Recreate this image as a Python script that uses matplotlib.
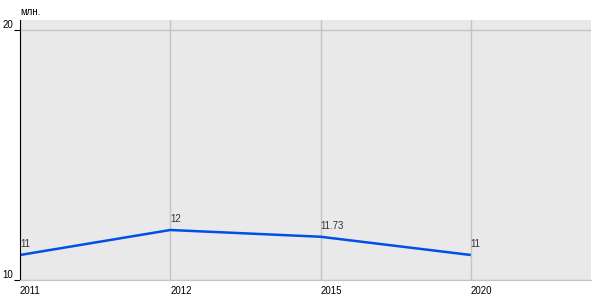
import matplotlib.pyplot as plt

# Данные
years = ["2011", "2012", "2015", "2020"]
values = [11, 12, 11.73, 11]
value_labels = ["11", "12", "11.73", "11"]

plt.rcParams['font.family'] = ['Liberation Sans', 'DejaVu Sans']

fig = plt.figure(figsize=(6, 3), dpi=100)
ax = fig.add_axes([20 / 600, 20 / 300, 571 / 600, 260 / 300])
ax.set_facecolor("#e9e9e9")

x = list(range(len(years)))
ax.plot(x, values, color="#0050e6", linewidth=1.8, solid_capstyle="butt")

for xi, v, lab in zip(x, values, value_labels):
    ax.annotate(lab, (xi, v), xytext=(0, 4), textcoords="offset points",
                ha="left", va="bottom", fontsize=7, color="#333333")

ax.set_xlim(0, 3.8)
ax.set_ylim(10, 20.4)
ax.set_xticks(x)
ax.set_xticklabels(years, ha="left")
ax.set_yticks([10, 20])
ax.set_yticklabels(["10", "20"], va="bottom")

ax.grid(True, color="#c4c4c4", linewidth=1)
ax.set_axisbelow(True)

for s in ["top", "right"]:
    ax.spines[s].set_visible(False)
ax.spines["left"].set_color("black")
ax.spines["bottom"].set_color("#c4c4c4")
ax.tick_params(axis="x", length=0, labelsize=7, pad=4)
ax.tick_params(axis="y", length=4, labelsize=7, pad=1)

fig.text(20 / 600, 1 - 12 / 300, "млн.", fontsize=7, ha="left", va="center")

plt.savefig("out.png", dpi=100)
